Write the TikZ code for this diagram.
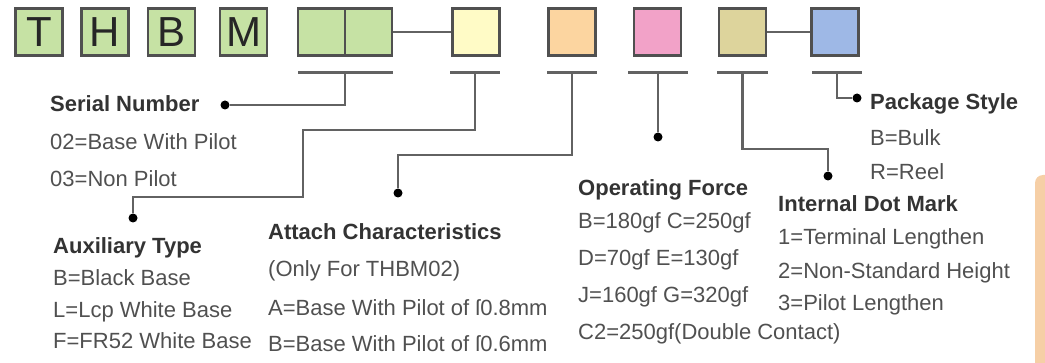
\documentclass[tikz,border=0pt]{standalone}
\usepackage{fontspec}
\setmainfont{Liberation Sans}
\definecolor{boxgreen}{HTML}{C6E2A4}
\definecolor{boxyellow}{HTML}{FFFBC6}
\definecolor{boxorange}{HTML}{FCD5A0}
\definecolor{boxpink}{HTML}{F2A2C8}
\definecolor{boxtan}{HTML}{DDD49C}
\definecolor{boxblue}{HTML}{9EB8E6}
\definecolor{boxline}{HTML}{505050}
\definecolor{leadgray}{HTML}{626262}
\definecolor{headgray}{HTML}{333333}
\definecolor{itemgray}{HTML}{505050}
\definecolor{tabfill}{HTML}{F6CFA6}
\tikzset{
  letter/.style = {rectangle, draw=boxline, line width=2.5pt, minimum size=47pt,
                   inner sep=0pt, text=black!85, font=\fontsize{42}{42}\selectfont},
  bar/.style    = {rectangle, fill=leadgray, minimum height=3pt, inner sep=0pt},
  dot/.style    = {circle, fill=black, inner sep=0pt, minimum size=9pt},
  lead/.style   = {draw=leadgray, line width=2.2pt},
  head/.style   = {anchor=base west, inner sep=0pt, text=headgray,
                   font=\fontsize{22}{26}\selectfont\bfseries},
  item/.style   = {anchor=base west, inner sep=0pt, text=itemgray,
                   font=\fontsize{22}{26}\selectfont},
}
\begin{document}
\begin{tikzpicture}[x=1pt, y=-1pt]
  \useasboundingbox (0,0) rectangle (1045,363);
  \begin{scope}
    \clip (0,0) rectangle (1045,363);
    \fill[tabfill, rounded corners=8pt] (1035,175) rectangle (1090,400);
  \end{scope}

  % code boxes
  \node[letter, fill=boxgreen] (lt) at (39,32)    {T};
  \node[letter, fill=boxgreen] (lh) at (105,32)   {H};
  \node[letter, fill=boxgreen] (lb) at (171.5,32) {B};
  \node[letter, fill=boxgreen] (lm) at (243.5,32) {M};
  \node[letter, fill=boxgreen] (sn1) at (321.5,32) {};
  \node[letter, fill=boxgreen] (sn2) at (368.5,32) {};
  \node[letter, fill=boxyellow] (aux) at (476,32)   {};
  \node[letter, fill=boxorange] (att) at (572,32)   {};
  \node[letter, fill=boxpink]   (opf) at (657.5,32) {};
  \node[letter, fill=boxtan]    (idm) at (742.5,32) {};
  \node[letter, fill=boxblue]   (pkg) at (835,32)   {};
  \draw[lead] (sn2) -- (aux);
  \draw[lead] (idm) -- (pkg);

  % underlines
  \node[bar, minimum width=95pt] (snbar)  at (345,73)   {};
  \node[bar, minimum width=50pt] (auxbar) at (475,73)   {};
  \node[bar, minimum width=50pt] (attbar) at (572,73)   {};
  \node[bar, minimum width=60pt] (opfbar) at (658,73)   {};
  \node[bar, minimum width=51pt] (idmbar) at (742.5,73) {};
  \node[bar, minimum width=50pt] (pkgbar) at (837,73)   {};

  % dots
  \node[dot] (sdot) at (225,105) {};
  \node[dot] (adot) at (133,218) {};
  \node[dot] (tdot) at (398,193) {};
  \node[dot] (odot) at (658,137) {};
  \node[dot] (idot) at (828,176) {};
  \node[dot] (pdot) at (857,98)  {};

  % leaders
  \draw[lead] (snbar.center) |- (sdot);
  \draw[lead] (auxbar.center) -- ++(0,57) -| ++(-172,67) -| (adot);
  \draw[lead] (attbar.center) -- ++(0,82) -| (tdot);
  \draw[lead] (opfbar.center) -- (odot);
  \draw[lead] (idmbar.center) -- ++(0,76) -| (idot);
  \draw[lead] (pkgbar.center) |- (pdot);

  % descriptions
  \node[head] (serhead) at (50,112) {Serial Number};
  \foreach \t/\yy [count=\i] in {02=Base With Pilot/150, 03=Non Pilot/187}
    \node[item] (ser\i) at (50,\yy) {\t};

  \node[head] (auxhead) at (53,254) {Auxiliary Type};
  \foreach \t/\yy [count=\i] in {B=Black Base/286, L=Lcp White Base/318,
                                 F=FR52 White Base/349}
    \node[item] (aux\i) at (53,\yy) {\t};

  \node[head] (atthead) at (268,240) {Attach Characteristics};
  \foreach \t/\yy [count=\i] in {{(Only For THBM02)}/277,
                                 A=Base With Pilot of ſ0.8mm/316,
                                 B=Base With Pilot of ſ0.6mm/352}
    \node[item] (att\i) at (268,\yy) {\t};

  \node[head] (opfhead) at (578,196) {Operating Force};
  \foreach \t/\yy [count=\i] in {B=180gf C=250gf/229, D=70gf E=130gf/266,
                                 J=160gf G=320gf/303, C2=250gf(Double Contact)/340}
    \node[item] (opf\i) at (578,\yy) {\t};

  \node[head] (idmhead) at (778,212) {Internal Dot Mark};
  \foreach \t/\yy [count=\i] in {1=Terminal Lengthen/245, 2=Non-Standard Height/279,
                                 3=Pilot Lengthen/311}
    \node[item] (idm\i) at (778,\yy) {\t};

  \node[head] (pkghead) at (870,110) {Package Style};
  \foreach \t/\yy [count=\i] in {B=Bulk/146, R=Reel/180}
    \node[item] (pkg\i) at (870,\yy) {\t};
\end{tikzpicture}
\end{document}
